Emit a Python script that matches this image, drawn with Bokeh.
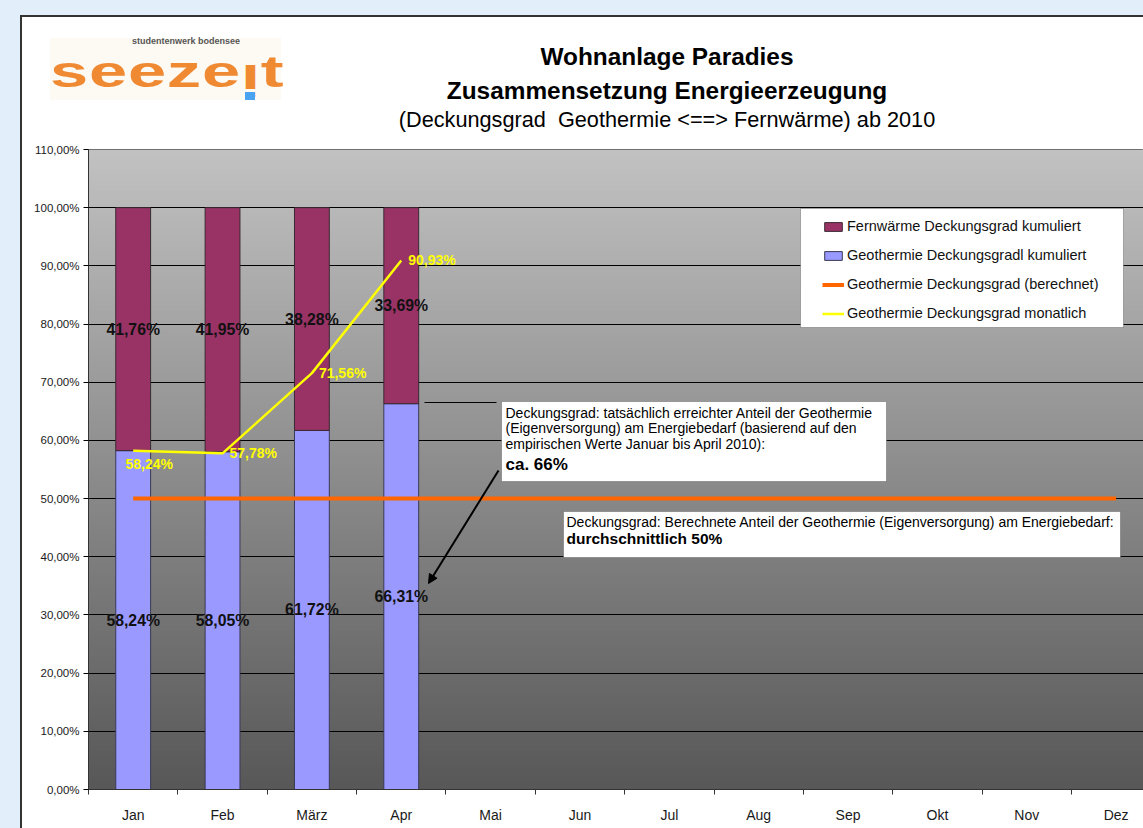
import html as htmlmod
import numpy as np
from bokeh.plotting import figure
from bokeh.layouts import column
from bokeh.models import (ColumnDataSource, FixedTicker, Legend, LegendItem, Label, LabelSet,
                          BoxAnnotation, Arrow, NormalHead, Range1d, Div)
from bokeh.embed import file_html
from bokeh.resources import INLINE
from bokeh.core.properties import value

# ---------------- data ----------------
months = ["Jan", "Feb", "März", "Apr", "Mai", "Jun", "Jul", "Aug", "Sep", "Okt", "Nov", "Dez"]
geo_kumuliert = [58.24, 58.05, 61.72, 66.31]
fern_kumuliert = [41.76, 41.95, 38.28, 33.69]
geo_monatlich = [58.24, 57.78, 71.56, 90.93]
geo_berechnet = [50, 50, 50, 50, 50, 50, 50, 50, 50, 50, 50, 50]
y_ticks = [0, 10, 20, 30, 40, 50, 60, 70, 80, 90, 100, 110]
y_tick_labels = ["0,00%", "10,00%", "20,00%", "30,00%", "40,00%", "50,00%",
                 "60,00%", "70,00%", "80,00%", "90,00%", "100,00%", "110,00%"]

# ---------------- layout ----------------
FONT = "Liberation Sans"
OX, OY = 22, 17                 # page position of the white chart sheet
HEAD_H = 124
W, H = 1143 - OX, 828 - OY - HEAD_H
BL, BR, BT, BB = 66, 0, 8, 39
SLOT = 89.36
FRAME_L = OX + BL               # page x of frame left
FRAME_B = OY + HEAD_H + H - BB  # page y of frame bottom
x_end = (W - BL - BR) / SLOT


def sx(X):
    return X - FRAME_L


def sy(Y):
    return FRAME_B - Y


def fmt(v):
    return f"{v:.2f}".replace(".", ",") + "%"


xc = [i + 0.5 for i in range(len(months))]
nb = len(geo_kumuliert)
xb = xc[:nb]

fig = figure(width=W, height=H, output_backend="svg", toolbar_location=None, title=None,
             x_range=Range1d(0, x_end), y_range=Range1d(0, 110),
             min_border_left=BL, min_border_right=BR, min_border_top=BT, min_border_bottom=BB,
             border_fill_color="white", outline_line_color="#555555", outline_line_width=1,
             margin=0)

# gradient plot background
rows = 256
t = np.linspace(0, 1, rows)[:, None]
grey = (88 + (194 - 88) * t).astype(np.uint8)
img = np.empty((rows, 1), dtype=np.uint32)
v = img.view(dtype=np.uint8).reshape((rows, 1, 4))
v[:, :, 0] = grey
v[:, :, 1] = grey
v[:, :, 2] = grey
v[:, :, 3] = 255
fig.image_rgba(image=[img], x=0, y=0, dw=x_end, dh=110, level="image")

# axes
fig.xgrid.visible = False
fig.ygrid.grid_line_color = "black"
fig.ygrid.grid_line_width = 1

fig.yaxis.ticker = FixedTicker(ticks=y_ticks)
fig.yaxis.major_label_overrides = dict(zip(y_ticks, y_tick_labels))
fig.yaxis.major_label_text_font = FONT
fig.yaxis.major_label_text_font_size = "11.5px"
fig.yaxis.major_label_text_color = "#1a1a1a"
fig.yaxis.major_tick_out = 5
fig.yaxis.major_tick_in = 0
fig.yaxis.major_tick_line_color = "black"
fig.yaxis.minor_tick_line_color = None
fig.yaxis.axis_line_color = "#333333"
fig.yaxis.major_label_standoff = 4

fig.xaxis.ticker = FixedTicker(ticks=xc, minor_ticks=list(range(len(months) + 1)))
fig.xaxis.major_label_overrides = dict(zip(xc, months))
fig.xaxis.major_label_text_font = FONT
fig.xaxis.major_label_text_font_size = "14px"
fig.xaxis.major_label_text_color = "#1a1a1a"
fig.xaxis.major_tick_line_color = None
fig.xaxis.major_tick_out = 0
fig.xaxis.major_tick_in = 0
fig.xaxis.minor_tick_out = 5
fig.xaxis.minor_tick_in = 0
fig.xaxis.minor_tick_line_color = "#333333"
fig.xaxis.axis_line_color = "#333333"
fig.xaxis.major_label_standoff = 12

# bars
src = ColumnDataSource(dict(
    x=xb,
    geo=geo_kumuliert,
    total=[g + f for g, f in zip(geo_kumuliert, fern_kumuliert)],
    geo_mid=[g / 2 for g in geo_kumuliert],
    fern_mid=[g + f / 2 for g, f in zip(geo_kumuliert, fern_kumuliert)],
    geo_txt=[fmt(g) for g in geo_kumuliert],
    fern_txt=[fmt(f) for f in fern_kumuliert],
))
r_geo = fig.vbar(x="x", bottom=0, top="geo", width=0.39, source=src,
                 fill_color="#9999ff", line_color="#3a3a55", line_width=1)
r_fern = fig.vbar(x="x", bottom="geo", top="total", width=0.39, source=src,
                  fill_color="#993366", line_color="#3a2a33", line_width=1)

r_ber = fig.line(xc, geo_berechnet, line_color="#ff6600", line_width=4)
r_mon = fig.line(xb, geo_monatlich, line_color="#ffff00", line_width=2.5)

lbl_style = dict(text_font=value(FONT), text_font_style="bold", text_align="center",
                 text_baseline="middle")
fig.add_layout(LabelSet(x="x", y="geo_mid", text="geo_txt", source=src, text_font_size="15.8px",
                        text_color="#111111", **lbl_style))
fig.add_layout(LabelSet(x="x", y="fern_mid", text="fern_txt", source=src, text_font_size="15.8px",
                        text_color="#111111", **lbl_style))

mon_first = ColumnDataSource(dict(x=xb[:1], y=geo_monatlich[:1], txt=[fmt(g) for g in geo_monatlich[:1]]))
mon_rest = ColumnDataSource(dict(x=xb[1:], y=geo_monatlich[1:], txt=[fmt(g) for g in geo_monatlich[1:]]))
fig.add_layout(LabelSet(x="x", y="y", text="txt", source=mon_first, x_offset=16, y_offset=-13,
                        text_font=value(FONT), text_font_style="bold", text_font_size="14px",
                        text_color="#ffff00", text_align="center", text_baseline="middle"))
fig.add_layout(LabelSet(x="x", y="y", text="txt", source=mon_rest, x_offset=7, y_offset=0,
                        text_font=value(FONT), text_font_style="bold", text_font_size="14px",
                        text_color="#ffff00", text_align="left", text_baseline="middle"))


def sbox(l, r, t_, b, **kw):
    return BoxAnnotation(left=sx(l), right=sx(r), top=sy(t_), bottom=sy(b),
                         left_units="screen", right_units="screen",
                         top_units="screen", bottom_units="screen", **kw)


def slabel(X, Y, text, size, bold=False, color="black", align="left"):
    return Label(x=sx(X), y=sy(Y), x_units="screen", y_units="screen", text=text,
                 text_font=FONT, text_font_size=size,
                 text_font_style="bold" if bold else "normal",
                 text_color=color, text_align=align, text_baseline="middle")


# legend
fig.add_layout(sbox(800, 1123, 208, 327, fill_color="white", fill_alpha=1,
                    line_color="#222222", line_width=1))
legend = Legend(items=[
    LegendItem(label="Fernwärme Deckungsgrad kumuliert", renderers=[r_fern]),
    LegendItem(label="Geothermie Deckungsgradl kumuliert", renderers=[r_geo]),
    LegendItem(label="Geothermie Deckungsgrad (berechnet)", renderers=[r_ber]),
    LegendItem(label="Geothermie Deckungsgrad monatlich", renderers=[r_mon]),
], location=(sx(822), sy(321)), margin=0, padding=10, spacing=13, glyph_width=22,
    glyph_height=11, label_height=14, label_standoff=3, label_text_font=FONT,
    label_text_font_size="14.5px", label_text_color="#111111",
    background_fill_alpha=0, border_line_color=None)
fig.add_layout(legend)

# annotation 1
fig.add_layout(Arrow(x_start=sx(424), y_start=sy(402), x_end=sx(496), y_end=sy(402),
                     start_units="screen", end_units="screen", end=None,
                     line_color="black", line_width=1))
fig.add_layout(sbox(501, 886, 401, 481, fill_color="white", fill_alpha=1,
                    line_color="#222222", line_width=1))
fig.add_layout(slabel(505, 412, "Deckungsgrad: tatsächlich erreichter Anteil der Geothermie", "14px"))
fig.add_layout(slabel(505, 427, "(Eigenversorgung) am Energiebedarf (basierend auf den", "14px"))
fig.add_layout(slabel(505, 443, "empirischen Werte Januar bis April 2010):", "14px"))
fig.add_layout(slabel(505, 464, "ca. 66%", "17px", bold=True))
fig.add_layout(Arrow(x_start=sx(498), y_start=sy(470), x_end=sx(428), y_end=sy(583),
                     start_units="screen", end_units="screen",
                     end=NormalHead(size=9, fill_color="black", line_color="black"),
                     line_color="black", line_width=2))

# annotation 2
fig.add_layout(sbox(563, 1120, 511, 557, fill_color="white", fill_alpha=1,
                    line_color="#222222", line_width=1))
fig.add_layout(slabel(566, 521, "Deckungsgrad: Berechnete Anteil der Geothermie (Eigenversorgung) am Energiebedarf:", "14px"))
fig.add_layout(slabel(566, 538, "durchschnittlich 50%", "15.5px", bold=True))


# ---------------- header (logo + titles) ----------------
def htext(X, baseline, inner, size, bold=False, color="#000", center=True, lh=1.0, extra=""):
    x = X - OX
    top = baseline - OY - (lh / 2 + 0.3465) * size
    tr = "transform:translateX(-50%);" if center else ""
    return (f'<div style="position:absolute;left:{x:.1f}px;top:{top:.1f}px;'
            f"font-family:'{FONT}';font-size:{size}px;font-weight:{'bold' if bold else 'normal'};"
            f'line-height:{lh};white-space:pre;color:{color};{tr}{extra}">{inner}</div>')


def hbox(X0, Y0, X1, Y1, color):
    return (f'<div style="position:absolute;left:{X0 - OX}px;top:{Y0 - OY}px;'
            f'width:{X1 - X0}px;height:{Y1 - Y0}px;background:{color};"></div>')


LOGO = 44
logo_inner = ("seeze"
              f'<span style="display:inline-block;transform:scaleY(-1);'
              f'transform-origin:50% {(0.55 / 2 + 0.3465 - 0.26) * LOGO:.1f}px;">i</span>'
              "t")

head_html = (
    f'<div style="position:relative;width:{W}px;height:{HEAD_H}px;background:white;overflow:hidden;">'
    + hbox(50, 38, 281, 100, "#fdfaf4")
    + htext(50, 87, logo_inner, LOGO, bold=True, color="#ef8a33", center=False, lh=0.55,
            extra="transform:scaleX(1.56);transform-origin:0 0;letter-spacing:0.5px;")
    + htext(132, 45, "studentenwerk bodensee", 9, bold=True, color="#555555", center=False)
    + hbox(245, 92, 255, 100, "#4aa3f0")
    + htext(667, 65.3, htmlmod.escape("Wohnanlage Paradies"), 24.4, bold=True)
    + htext(667, 100, htmlmod.escape("Zusammensetzung Energieerzeugung"), 24.4, bold=True)
    + htext(667, 127.7, htmlmod.escape("(Deckungsgrad  Geothermie <==> Fernwärme) ab 2010"), 21.7)
    + "</div>"
)
header = Div(text=head_html, width=W, height=HEAD_H, margin=0)

p = column(header, fig, spacing=0, margin=(OY, 0, 0, OX),
           styles={"outline": "2px solid #333333", "background-color": "white"})

page = file_html(p, INLINE).replace("</head>", "<style>body{background:#e2eef9;}</style></head>")
open("out.html", "w").write(page)
